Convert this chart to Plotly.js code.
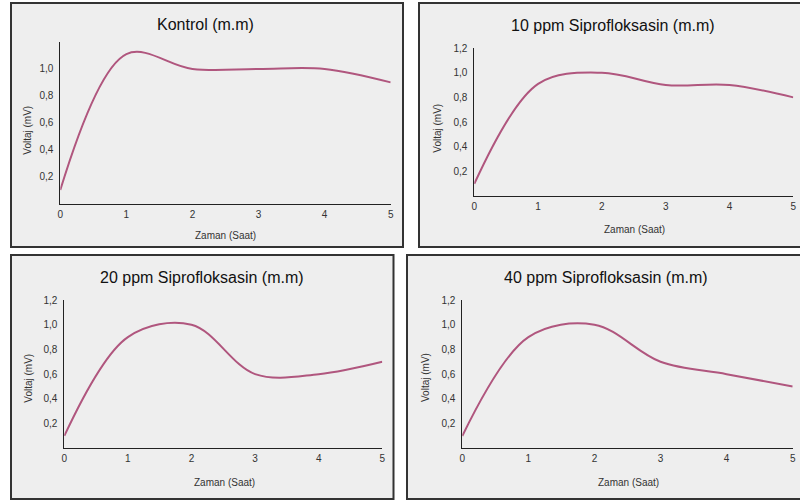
<!DOCTYPE html>
<html>
<head>
<meta charset="utf-8">
<script src="https://cdn.plot.ly/plotly-3.0.1.min.js"></script>
<style>html,body{margin:0;padding:0;background:#fff;}#chart{width:800px;height:504px;}</style>
</head>
<body>
<div id="chart"></div>
<script>
// Data
const hours = [0, 1, 2, 3, 4, 5];
const kontrol = [0.1, 1.11, 1.0, 1.0, 1.0, 0.9];
const cipro10 = [0.1, 0.91, 1.0, 0.9, 0.9, 0.8];
const cipro20 = [0.1, 0.9, 1.0, 0.6, 0.6, 0.7];
const cipro40 = [0.1, 0.9, 1.0, 0.7, 0.6, 0.5];
const panelTitles = ["Kontrol (m.m)", "10 ppm Siprofloksasin (m.m)", "20 ppm Siprofloksasin (m.m)", "40 ppm Siprofloksasin (m.m)"];
const xTitle = "Zaman (Saat)";
const yTitle = "Voltaj (mV)";
const xTicks = [0, 1, 2, 3, 4, 5];
const yTicksKontrol = [0.2, 0.4, 0.6, 0.8, 1.0];
const yTicks = [0.2, 0.4, 0.6, 0.8, 1.0, 1.2];

const W = 800, H = 504;
const px = v => v / W;
const py = v => 1 - v / H;

const series = [kontrol, cipro10, cipro20, cipro40];
const lineColor = "#b0567e";

// Layout geometry (pixels)
const panels = [
  {box: [11, 3, 403, 247], xd: [60.3, 390.7], yd: [203.5, 42], yt: yTicksKontrol,
   title: [205.7, 24.3], xt: [225.7, 235], ytl: [26.7, 130]},
  {box: [419, 3, 810, 247], xd: [474.3, 793.3], yd: [196.2, 48], yt: yTicks,
   title: [613.3, 25], xt: [634, 230], ytl: [436.7, 128]},
  {box: [11, 255, 393.5, 499], xd: [64.3, 382.3], yd: [448.3, 300], yt: yTicks,
   title: [202.3, 277.7], xt: [224, 482], ytl: [27.7, 378]},
  {box: [407, 255, 810, 499], xd: [462.3, 792.7], yd: [448.3, 300], yt: yTicks,
   title: [605.7, 277.7], xt: [628.3, 482], ytl: [425, 378]}
];

const traces = [];
const layout = {
  width: W, height: H,
  margin: {l: 0, r: 0, t: 0, b: 0},
  paper_bgcolor: "#ffffff",
  plot_bgcolor: "rgba(0,0,0,0)",
  showlegend: false,
  separators: ",.",
  font: {family: "Liberation Sans, Arial, sans-serif", color: "#333"},
  shapes: [],
  annotations: []
};

panels.forEach((p, i) => {
  const n = i === 0 ? "" : String(i + 1);
  traces.push({
    x: hours, y: series[i], type: "scatter", mode: "lines",
    line: {shape: "spline", smoothing: 1, color: lineColor, width: 2},
    xaxis: "x" + n, yaxis: "y" + n, hoverinfo: "skip"
  });
  const axCommon = {showgrid: false, zeroline: false, showline: true, linecolor: "#222", linewidth: 1,
    ticks: "", tickfont: {size: 10, color: "#333"}, fixedrange: true};
  layout["xaxis" + n] = Object.assign({}, axCommon, {
    domain: [px(p.xd[0]), px(p.xd[1])], range: [0, 5], tickvals: xTicks,
    anchor: "y" + n, ticklabelstandoff: 1
  });
  layout["yaxis" + n] = Object.assign({}, axCommon, {
    domain: [py(p.yd[0]), py(p.yd[1])], range: [0, 1.2], tickvals: p.yt, tickformat: ".1f",
    anchor: "x" + n, ticklabelstandoff: 4
  });
  layout.shapes.push({type: "rect", xref: "paper", yref: "paper", layer: "below",
    x0: px(p.box[0]), x1: px(p.box[2]), y0: py(p.box[3]), y1: py(p.box[1]),
    fillcolor: "#eeeeee", line: {color: "#333", width: 2}});
  layout.annotations.push({xref: "paper", yref: "paper", x: px(p.title[0]), y: py(p.title[1]),
    text: panelTitles[i], showarrow: false, xanchor: "center", yanchor: "middle",
    font: {size: 16, color: "#111"}});
  layout.annotations.push({xref: "paper", yref: "paper", x: px(p.xt[0]), y: py(p.xt[1]),
    text: xTitle, showarrow: false, xanchor: "center", yanchor: "middle",
    font: {size: 10, color: "#333"}});
  layout.annotations.push({xref: "paper", yref: "paper", x: px(p.ytl[0]), y: py(p.ytl[1]),
    text: yTitle, showarrow: false, xanchor: "center", yanchor: "middle", textangle: -90,
    font: {size: 10, color: "#333"}});
});

Plotly.newPlot("chart", traces, layout, {staticPlot: true, displayModeBar: false});
</script>
</body>
</html>
